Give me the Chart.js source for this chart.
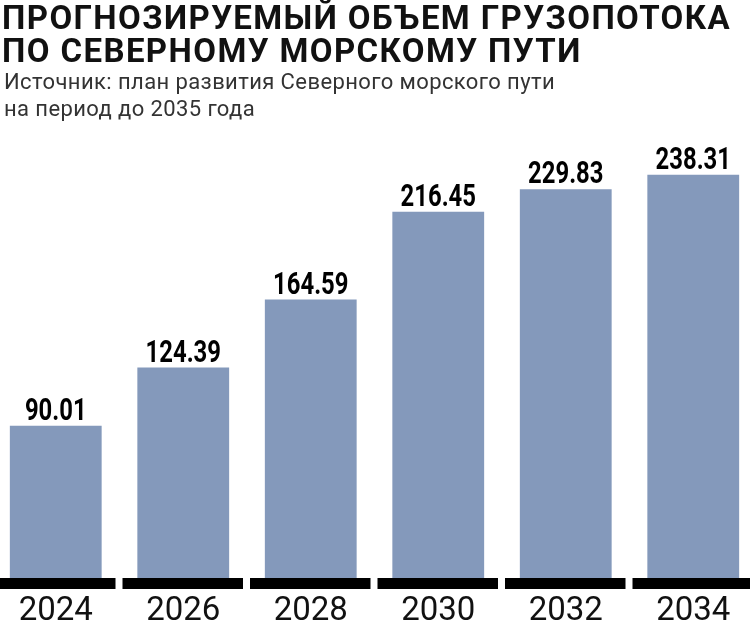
<!DOCTYPE html>
<html><head><meta charset="utf-8">
<script src="https://cdn.jsdelivr.net/npm/chart.js@4"></script>
<style>
html,body{margin:0;padding:0;width:750px;height:621px;overflow:hidden;background:#fff;position:relative}
#wrap{position:absolute;left:-8px;top:0;width:765px;height:621px}
#t{position:absolute;left:2px;top:1px;font-family:"Roboto",sans-serif;font-weight:bold;font-size:33px;line-height:33px;color:#111;letter-spacing:1.4px}
#s{position:absolute;left:4px;top:68px;font-family:"Roboto",sans-serif;font-size:22px;line-height:27px;color:#333;letter-spacing:0.4px}
</style></head><body>
<div id="wrap"><canvas id="c" width="765" height="621"></canvas></div>
<div id="t">ПРОГНОЗИРУЕМЫЙ ОБЪЕМ ГРУЗОПОТОКА<br>ПО СЕВЕРНОМУ МОРСКОМУ ПУТИ</div>
<div id="s">Источник: план развития Северного морского пути<br>на период до 2035 года</div>
<script>
const categories=["2024","2026","2028","2030","2032","2034"];
const values=[90.01,124.39,164.59,216.45,229.83,238.31];
const valueLabels=["90.01","124.39","164.59","216.45","229.83","238.31"];
const deco={id:'deco',afterDatasetsDraw(ch){
 const c=ch.ctx,x=ch.scales.x,a=ch.chartArea,meta=ch.getDatasetMeta(0);
 const w=(a.right-a.left)/categories.length;
 c.save();
 categories.forEach((lab,i)=>{
  const l=a.left+w*i;
  c.fillStyle='#000';
  c.fillRect(l+3,a.bottom,w-7,11);
  c.font='33px "Roboto", sans-serif';
  c.textAlign='center';c.textBaseline='alphabetic';
  c.fillStyle='#111';
  c.fillText(lab,x.getPixelForValue(i),620);
  c.fillStyle='#000';
  const b=meta.data[i];
  c.save();
  c.translate(b.x,b.y-6);c.scale(0.77,1);
  c.font='bold 31px "Roboto", sans-serif';
  c.fillText(valueLabels[i],0,0);
  c.restore();
 });
 c.restore();
}};
new Chart(document.getElementById('c'),{
 type:'bar',
 data:{labels:categories,datasets:[{data:values,backgroundColor:'#8499bb',barPercentage:0.72,categoryPercentage:1}]},
 options:{responsive:false,animation:false,
  layout:{padding:{top:150,bottom:43,left:0,right:0}},
  plugins:{legend:{display:false},tooltip:{enabled:false}},
  scales:{x:{display:false},y:{display:false,min:0,max:253}}},
 plugins:[deco]
});
</script></body></html>
